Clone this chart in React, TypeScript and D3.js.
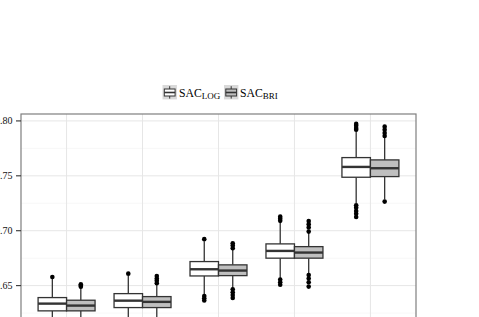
import React from "react";
import * as d3 from "d3";

// data (x labels sit below the visible area)
const groups = ["1", "2", "3", "4", "5"];
const seriesNames = ["LOG", "BRI"];

const logQ1 = [0.627, 0.63, 0.6588, 0.675, 0.7487];
const logMed = [0.6336, 0.6363, 0.6649, 0.6816, 0.7581];
const logQ3 = [0.6391, 0.6427, 0.6719, 0.688, 0.7666];
const logLo = [0.609, 0.612, 0.642, 0.657, 0.725];
const logHi = [0.656, 0.659, 0.6905, 0.707, 0.7905];
const logOut = [
  [0.6578],
  [0.6609],
  [0.6923, 0.6405, 0.6385, 0.6365],
  [0.7128, 0.711, 0.709, 0.6555, 0.653, 0.6508],
  [0.7973, 0.7955, 0.7935, 0.792, 0.7232, 0.721, 0.718, 0.7155, 0.7125],
];

const briQ1 = [0.627, 0.63, 0.6591, 0.675, 0.7493];
const briMed = [0.6318, 0.6352, 0.6637, 0.6801, 0.7569];
const briQ3 = [0.6367, 0.64, 0.6689, 0.6855, 0.7645];
const briLo = [0.613, 0.615, 0.648, 0.661, 0.7285];
const briHi = [0.648, 0.651, 0.683, 0.698, 0.785];
const briOut = [
  [0.6512, 0.65, 0.649],
  [0.6588, 0.6565, 0.6545, 0.6522],
  [0.6886, 0.6865, 0.6841, 0.6467, 0.644, 0.6415, 0.6388],
  [0.7089, 0.706, 0.703, 0.6992, 0.6597, 0.6565, 0.653, 0.6491],
  [0.7948, 0.792, 0.789, 0.7863, 0.7265],
];

const yTicks = [0.65, 0.7, 0.75, 0.8];
const yMinor = [0.625, 0.675, 0.725, 0.775];

const fills = ["#ffffff", "#bfbfbf"];
const stroke = "#333333";
const serif = { fontFamily: "'Liberation Serif', 'DejaVu Serif', serif" };

const LEFT = 21;
const RIGHT = 416;
const TOP = 114;
const BOTTOM = 331.4;

type Box = { q1: number; med: number; q3: number; lo: number; hi: number; out: number[] };

export default function App() {
  const x = d3.scaleBand<string>().domain(groups).range([LEFT, RIGHT]).paddingInner(0).paddingOuter(0.1);
  const y = d3.scaleLinear().domain([0.6083, 0.8063]).range([BOTTOM, TOP]);
  const dodge = d3
    .scaleBand<string>()
    .domain(seriesNames)
    .range([0, x.bandwidth() * 0.75]);

  const stats: Box[][] = [
    groups.map((_, i) => ({ q1: logQ1[i], med: logMed[i], q3: logQ3[i], lo: logLo[i], hi: logHi[i], out: logOut[i] })),
    groups.map((_, i) => ({ q1: briQ1[i], med: briMed[i], q3: briQ3[i], lo: briLo[i], hi: briHi[i], out: briOut[i] })),
  ];

  const boxes = stats.map((ser, s) =>
    ser.map((b, i) => {
      const x0 = (x(groups[i]) as number) + x.bandwidth() * 0.125 + (dodge(seriesNames[s]) as number);
      const w = dodge.bandwidth();
      const cx = x0 + w / 2;
      return (
        <g key={`${s}-${i}`}>
          <line x1={cx} x2={cx} y1={y(b.q3)} y2={y(b.hi)} stroke={stroke} strokeWidth={1.3} />
          <line x1={cx} x2={cx} y1={y(b.q1)} y2={y(b.lo)} stroke={stroke} strokeWidth={1.3} />
          <rect x={x0} y={y(b.q3)} width={w} height={y(b.q1) - y(b.q3)} fill={fills[s]} stroke={stroke} strokeWidth={1.3} />
          <line x1={x0} x2={x0 + w} y1={y(b.med)} y2={y(b.med)} stroke={stroke} strokeWidth={2.4} />
          {b.out.map((o, k) => (
            <circle key={k} cx={cx} cy={y(o)} r={2.3} fill="#000" />
          ))}
        </g>
      );
    })
  );

  // legend keys
  const keys = [
    { x: 162.5, label: "LOG", tx: 179 },
    { x: 224, label: "BRI", tx: 240 },
  ];

  return (
    <svg width={479} height={317} style={{ position: "absolute", left: 0, top: 0 }}>
      <rect x={LEFT} y={TOP} width={RIGHT - LEFT} height={BOTTOM - TOP} fill="#fff" />
      {yMinor.map((t) => (
        <line key={`mn${t}`} x1={LEFT} x2={RIGHT} y1={y(t)} y2={y(t)} stroke="#f5f5f5" strokeWidth={0.8} />
      ))}
      {yTicks.map((t) => (
        <line key={`mj${t}`} x1={LEFT} x2={RIGHT} y1={y(t)} y2={y(t)} stroke="#e6e6e6" strokeWidth={1} />
      ))}
      {groups.map((g) => (
        <line
          key={`v${g}`}
          x1={(x(g) as number) + x.bandwidth() / 2}
          x2={(x(g) as number) + x.bandwidth() / 2}
          y1={TOP}
          y2={BOTTOM}
          stroke="#e6e6e6"
          strokeWidth={1}
        />
      ))}
      {boxes}
      <rect x={LEFT} y={TOP} width={RIGHT - LEFT} height={BOTTOM - TOP} fill="none" stroke="#7f7f7f" strokeWidth={1.2} />
      {yTicks.map((t) => (
        <g key={`t${t}`}>
          <line x1={LEFT - 5} x2={LEFT} y1={y(t)} y2={y(t)} stroke="#333" strokeWidth={1.1} />
          <text x={LEFT - 8.5} y={y(t)} dy="0.35em" textAnchor="end" fontSize={10} fill="#111" style={serif}>
            {t.toFixed(2)}
          </text>
        </g>
      ))}
      {keys.map((k, s) => (
        <g key={k.label}>
          <rect x={k.x} y={85} width={14.4} height={14.4} fill="#d9d9d9" />
          <line x1={k.x + 7.2} x2={k.x + 7.2} y1={86.2} y2={98.6} stroke={stroke} strokeWidth={1} />
          <rect x={k.x + 1.8} y={89} width={10.8} height={7} fill={fills[s]} stroke={stroke} strokeWidth={1} />
          <line x1={k.x + 1.8} x2={k.x + 12.6} y1={92.5} y2={92.5} stroke={stroke} strokeWidth={1.6} />
          <text x={k.tx} y={97} fontSize={11.7} fill="#000" style={serif}>
            SAC
            <tspan fontSize={9} dy={2}>
              {k.label}
            </tspan>
          </text>
        </g>
      ))}
    </svg>
  );
}
